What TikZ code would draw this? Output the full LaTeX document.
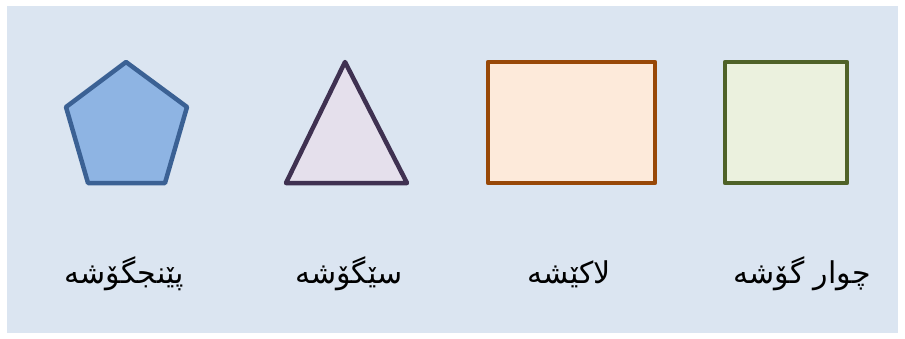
\documentclass[tikz,border=0pt]{standalone}
\usepackage{fontspec}
\newfontfamily\arabicfont[Script=Arabic]{DejaVu Sans}
\TeXXeTstate=1
\definecolor{bgc}{HTML}{DBE5F1}
\definecolor{pentf}{HTML}{8EB4E3}
\definecolor{pentd}{HTML}{3B6194}
\definecolor{trif}{HTML}{E5E0EC}
\definecolor{trid}{HTML}{3F3151}
\definecolor{rectf}{HTML}{FDEADA}
\definecolor{rectd}{HTML}{984807}
\definecolor{sqf}{HTML}{EBF1DE}
\definecolor{sqd}{HTML}{4F6228}
\tikzset{
  shp/.style={line width=4.5pt, line join=round},
  lbl/.style={font=\arabicfont\fontsize{30}{34}\selectfont, text=black, inner sep=0pt, anchor=center}
}
\begin{document}
\begin{tikzpicture}[x=1pt,y=-1pt]
\useasboundingbox (0,0) rectangle (905,338);
\fill[white] (0,0) rectangle (905,338);
\fill[bgc] (7,6) rectangle (898,333);
% pentagon
\draw[shp, draw=pentd, fill=pentf] (126,62) -- (187,107) -- (165,183) -- (88,183) -- (66,107) -- cycle;
% triangle
\draw[shp, draw=trid, fill=trif] (345,62) -- (407,183) -- (286,183) -- cycle;
% rectangle
\draw[shp, draw=rectd, fill=rectf] (488,62) rectangle (655,183);
% square
\draw[shp, draw=sqd, fill=sqf] (725,62) rectangle (847,183);
% labels
\node[lbl] (l1) at (124,274) {\beginR پێنجگۆشە\endR};
\node[lbl] (l2) at (349,274) {\beginR سێگۆشە\endR};
\node[lbl] (l3) at (569,274) {\beginR لاکێشە\endR};
\node[lbl] (l4) at (802,274) {\beginR چوار گۆشە\endR};
\end{tikzpicture}
\end{document}
